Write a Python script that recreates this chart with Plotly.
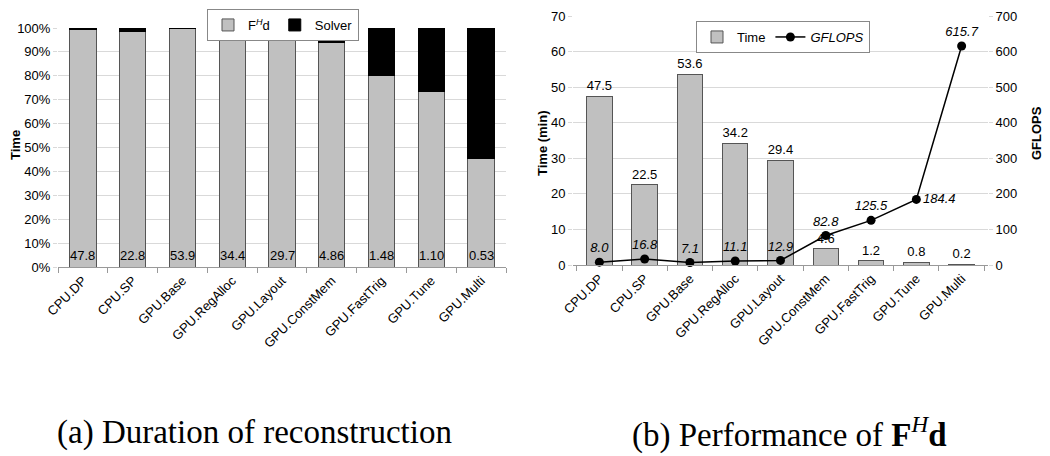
import plotly.graph_objects as go

categories = ["CPU.DP", "CPU.SP", "GPU.Base", "GPU.RegAlloc", "GPU.Layout",
              "GPU.ConstMem", "GPU.FastTrig", "GPU.Tune", "GPU.Multi"]
fhd_pct = [99.4, 98.7, 99.6, 99.3, 99.0, 94.0, 80.1, 73.4, 45.3]
solver_pct = [0.6, 1.3, 0.4, 0.7, 1.0, 6.0, 19.9, 26.6, 54.7]
total_time_labels = ["47.8", "22.8", "53.9", "34.4", "29.7", "4.86", "1.48", "1.10", "0.53"]
time_min = [47.5, 22.5, 53.6, 34.2, 29.4, 4.6, 1.2, 0.8, 0.2]
gflops = [8.0, 16.8, 7.1, 11.1, 12.9, 82.8, 125.5, 184.4, 615.7]
gflops_pos = ["top center"] * 7 + ["middle right", "top center"]

# page body has an 8px margin: the figure starts at (8, 8) in the window
OFF = 8
W, H = 1042, 448
FONT = "Liberation Sans, Arial, sans-serif"
GRAY = "#c0c0c0"
EDGE = "#555555"
GRID = "#d9d9d9"
AXL = "#999999"

def px(x):
    return (x - OFF) / W

def py(y):
    return 1 - (y - OFF) / H

fig = go.Figure()

# ---- left chart ----
fig.add_trace(go.Bar(x=categories, y=fhd_pct, name="F<sup><i>H</i></sup>d",
                     marker=dict(color=GRAY, line=dict(color=EDGE, width=1)),
                     width=0.53, xaxis="x", yaxis="y", legend="legend"))
fig.add_trace(go.Bar(x=categories, y=solver_pct, name="Solver",
                     marker=dict(color="black", line=dict(color="black", width=1)),
                     width=0.53, xaxis="x", yaxis="y", legend="legend"))

# ---- right chart ----
fig.add_trace(go.Bar(x=categories, y=time_min, name="Time",
                     marker=dict(color=GRAY, line=dict(color=EDGE, width=1)),
                     width=0.56, text=[f"{v:.1f}" for v in time_min],
                     textposition="outside",
                     textfont=dict(size=13, color="black", family=FONT),
                     cliponaxis=False,
                     xaxis="x2", yaxis="y2", legend="legend2"))
fig.add_trace(go.Scatter(x=categories, y=gflops, name="<i>GFLOPS</i>",
                         mode="lines+markers+text",
                         line=dict(color="black", width=1.5),
                         marker=dict(color="black", size=9),
                         text=[f"{v:.1f}" for v in gflops],
                         textposition=gflops_pos,
                         textfont=dict(size=13, color="black", family=FONT, style="italic"),
                         cliponaxis=False,
                         xaxis="x2", yaxis="y3", legend="legend2"))

tick_font = dict(size=13, color="black", family=FONT)
title_font = dict(size=13, color="black", family=FONT, weight="bold")

fig.update_layout(
    width=W, height=H,
    margin=dict(l=0, r=0, t=0, b=0, autoexpand=False),
    paper_bgcolor="white", plot_bgcolor="white",
    barmode="stack",
    font=dict(family=FONT, size=13, color="black"),
    xaxis=dict(domain=[px(58), px(506)], anchor="y", type="category", automargin=False,
               tickson="boundaries", ticks="outside", ticklen=5, tickcolor=AXL,
               showline=True, linecolor=AXL, showgrid=False, tickangle=-45,
               tickfont=tick_font),
    yaxis=dict(domain=[py(267), py(28)], anchor="x", range=[0, 100], dtick=10,
               automargin=False, ticklabeloverflow="allow",
               ticksuffix="%", showgrid=True, gridcolor=GRID, zeroline=False,
               ticks="outside", ticklen=4, tickcolor=GRID, showline=False,
               tickfont=tick_font),
    xaxis2=dict(domain=[px(573), px(988)], anchor="y2", type="category", automargin=False,
                tickson="boundaries", ticks="outside", ticklen=5, tickcolor=AXL,
                showline=True, linecolor=AXL, showgrid=False, tickangle=-45,
                tickfont=tick_font),
    yaxis2=dict(domain=[py(265), py(16)], anchor="x2", range=[0, 70], dtick=10,
                automargin=False, ticklabeloverflow="allow",
                showgrid=True, gridcolor=GRID, zeroline=False,
                ticks="outside", ticklen=4, tickcolor=GRID, showline=False,
                tickfont=tick_font),
    yaxis3=dict(overlaying="y2", side="right", anchor="x2", range=[0, 700], dtick=100,
                automargin=False, ticklabeloverflow="allow",
                showgrid=False, zeroline=False,
                ticks="outside", ticklen=4, tickcolor=GRID, showline=False,
                tickfont=tick_font),
    legend=dict(orientation="h", x=px(283), xanchor="center", y=py(9), yanchor="top",
                bordercolor="#888888", borderwidth=1, bgcolor="white",
                font=dict(size=13, family=FONT), traceorder="normal",
                itemwidth=30, tracegroupgap=0),
    legend2=dict(orientation="h", x=px(783), xanchor="center", y=py(21), yanchor="top",
                 bordercolor="#888888", borderwidth=1, bgcolor="white",
                 font=dict(size=13, family=FONT), traceorder="normal", itemwidth=30),
    showlegend=True,
)

# labels at the bottom of the stacked bars (total time)
for c, lab in zip(categories, total_time_labels):
    fig.add_annotation(x=c, y=0, xref="x", yref="y", text=lab, showarrow=False,
                       yanchor="bottom", yshift=2, font=tick_font)

# axis titles
fig.add_annotation(text="Time", xref="paper", yref="paper", x=px(15), y=py(145),
                   xanchor="center", yanchor="middle", textangle=-90,
                   showarrow=False, font=title_font)
fig.add_annotation(text="Time (min)", xref="paper", yref="paper", x=px(542), y=py(143),
                   xanchor="center", yanchor="middle", textangle=-90,
                   showarrow=False, font=title_font)
fig.add_annotation(text="GFLOPS", xref="paper", yref="paper", x=px(1036), y=py(133),
                   xanchor="center", yanchor="middle", textangle=-90,
                   showarrow=False, font=title_font)

cap_font = dict(size=33, color="black", family="Liberation Serif, Times New Roman, serif")
fig.add_annotation(text="(a) Duration of reconstruction", xref="paper", yref="paper",
                   x=px(254), y=py(432), xanchor="center", yanchor="middle",
                   showarrow=False, font=cap_font)
fig.add_annotation(text="(b) Performance of <b>F</b><sup><i>H</i></sup><b>d</b>",
                   xref="paper", yref="paper",
                   x=px(789), y=py(432), xanchor="center", yanchor="middle",
                   showarrow=False, font=cap_font)

fig.write_html("out.html")
